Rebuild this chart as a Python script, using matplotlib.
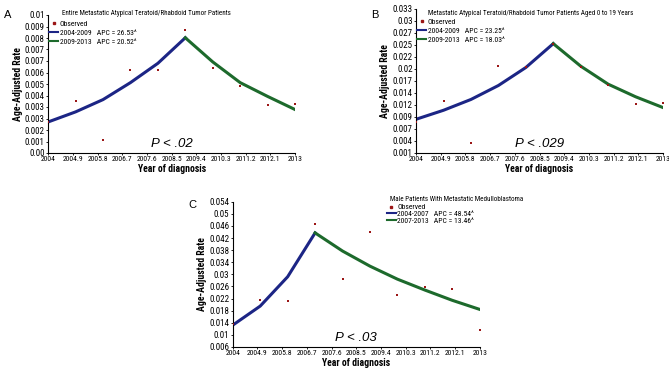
import matplotlib
matplotlib.use("Agg")
import matplotlib.pyplot as plt
from matplotlib.lines import Line2D
from matplotlib import font_manager
import numpy as np

# pick the narrowest font that is installed
names = {f.name for f in font_manager.fontManager.ttflist}
stretches = {(f.name, f.stretch) for f in font_manager.fontManager.ttflist}
narrow = None
stretch = 'normal'
for cand in ['Liberation Sans Narrow', 'Roboto Condensed', 'Open Sans Condensed', 'Noto Sans Condensed']:
    if cand in names:
        narrow = cand
        break
if narrow is None:
    for n, s in stretches:
        if s in ('condensed', 'semi-condensed', 'extra-condensed', 500, 300, 400) and n in ('DejaVu Sans', 'Noto Sans', 'Open Sans', 'Roboto'):
            narrow, stretch = n, s
            break
if narrow is None:
    narrow = 'Roboto'
NF = [narrow, 'DejaVu Sans']
plt.rcParams['font.family'] = NF
plt.rcParams['font.stretch'] = stretch

years = [2004, 2005, 2006, 2007, 2008, 2009, 2010, 2011, 2012, 2013]
xticks = [2004, 2004.9, 2005.8, 2006.7, 2007.6, 2008.5, 2009.4, 2010.3, 2011.2, 2012.1, 2013]
xlabels = ['2004', '2004.9', '2005.8', '2006.7', '2007.6', '2008.5', '2009.4', '2010.3', '2011.2', '2012.1', '2013']

# Panel A
obs_a = [0.00225, 0.00375, 0.00092, 0.00605, 0.0060, 0.00891, 0.00617, 0.00484, 0.00351, 0.00356]
fit1_years_a = [2004, 2005, 2006, 2007, 2008, 2009]
fit1_a = [0.00225, 0.00298, 0.00387, 0.0051, 0.0065, 0.00835]
fit2_years_a = [2009, 2010, 2011, 2012, 2013]
fit2_a = [0.00835, 0.0066, 0.0051, 0.0041, 0.00315]
ylabels_a = ['0.00', '0.001', '0.002', '0.003', '0.003', '0.004', '0.005', '0.006', '0.007', '0.007', '0.008', '0.009', '0.01']

# Panel B
obs_b = [0.0079, 0.0126, 0.0033, 0.0203, 0.0202, 0.0253, 0.0202, 0.0161, 0.0119, 0.0122]
fit1_years_b = [2004, 2005, 2006, 2007, 2008, 2009]
fit1_b = [0.0085, 0.0105, 0.0129, 0.0160, 0.0200, 0.0253]
fit2_years_b = [2009, 2010, 2011, 2012, 2013]
fit2_b = [0.0253, 0.0203, 0.0163, 0.0135, 0.0111]
ylabels_b = ['0.001', '0.004', '0.007', '0.009', '0.012', '0.014', '0.017', '0.02', '0.022', '0.025', '0.027', '0.03', '0.033']

# Panel C
obs_c = [0.0135, 0.02145, 0.0211, 0.0466, 0.0284, 0.0441, 0.0230, 0.0259, 0.0250, 0.0115]
fit1_years_c = [2004, 2005, 2006, 2007]
fit1_c = [0.0132, 0.0195, 0.0292, 0.0437]
fit2_years_c = [2007, 2008, 2009, 2010, 2011, 2012, 2013]
fit2_c = [0.0437, 0.0377, 0.0327, 0.0284, 0.0248, 0.0214, 0.0184]
ylabels_c = ['0.006', '0.01', '0.014', '0.018', '0.022', '0.026', '0.03', '0.034', '0.038', '0.042', '0.046', '0.05', '0.054']

blue = '#1c2585'
green = '#1d6a2c'
red = '#9b1616'

fig = plt.figure(figsize=(6.69, 3.75), dpi=100)


def panel(rect, letter, letter_xy, obs, fy1, f1, fy2, f2, ylim, ylabels,
          title, lab1, lab2, ptext, leg_xy, title_xy, lspace):
    ax = fig.add_axes(rect)
    ax.scatter(years, obs, s=4, marker='s', color=red, zorder=3, linewidths=0)
    ax.plot(fy1, f1, color=blue, lw=2.2)
    ax.plot(fy2, f2, color=green, lw=2.2)
    ax.set_xlim(2004, 2013)
    ax.set_ylim(ylim)
    ax.set_xticks(xticks)
    ax.set_xticklabels(xlabels, fontsize=5.5)
    ax.set_yticks(np.linspace(ylim[0], ylim[1], 13))
    ax.set_yticklabels(ylabels, fontsize=6.5)
    ax.tick_params(length=1.5, width=0.6, pad=1)
    ax.spines['top'].set_visible(False)
    ax.spines['right'].set_visible(False)
    ax.spines['left'].set_linewidth(0.8)
    ax.spines['bottom'].set_linewidth(0.8)
    ax.set_xlabel('Year of diagnosis', fontsize=7, fontweight='bold', labelpad=1)
    ax.set_ylabel('Age-Adjusted Rate', fontsize=7, fontweight='bold', labelpad=1.5)
    ax.text(0.5, 0.02, ptext, transform=ax.transAxes, ha='center', va='bottom',
            fontsize=9.5, style='italic', family=['Liberation Sans', 'DejaVu Sans'])
    ax.text(title_xy[0], title_xy[1], title, transform=ax.transAxes, fontsize=5,
            ha='left', va='center')
    handles = [Line2D([], [], ls='none', marker='s', ms=2, color=red),
               Line2D([], [], color=blue, lw=1.5),
               Line2D([], [], color=green, lw=1.5)]
    ax.legend(handles, ['Observed', lab1, lab2], loc='upper left',
              bbox_to_anchor=leg_xy, frameon=False, fontsize=5.5,
              handlelength=1.1, handletextpad=0.25, labelspacing=lspace,
              borderpad=0, borderaxespad=0)
    fig.text(letter_xy[0], letter_xy[1], letter, fontsize=8,
             family=['Liberation Sans', 'DejaVu Sans'])
    return ax


panel([0.072, 0.592, 0.369, 0.368], 'A', (0.006, 0.953), obs_a,
      fit1_years_a, fit1_a, fit2_years_a, fit2_a, (0, 0.01), ylabels_a,
      'Entire Metastatic Atypical Teratoid/Rhabdoid Tumor Patients',
      '2004-2009   APC = 26.53^', '2009-2013   APC = 20.52^', 'P < .02',
      (0.005, 0.96), (0.057, 1.01), 0.35)

panel([0.622, 0.592, 0.369, 0.384], 'B', (0.555, 0.953), obs_b,
      fit1_years_b, fit1_b, fit2_years_b, fit2_b, (0.001, 0.033), ylabels_b,
      'Metastatic Atypical Teratoid/Rhabdoid Tumor Patients Aged 0 to 19 Years',
      '2004-2009   APC = 23.25^', '2009-2013   APC = 18.03^', 'P < .029',
      (0.005, 0.935), (0.049, 0.972), 0.35)

panel([0.348, 0.075, 0.369, 0.387], 'C', (0.282, 0.445), obs_c,
      fit1_years_c, fit1_c, fit2_years_c, fit2_c, (0.006, 0.054), ylabels_c,
      'Male Patients With Metastatic Medulloblastoma',
      '2004-2007   APC = 48.54^', '2007-2013   APC = 13.46^', 'P < .03',
      (0.625, 0.985), (0.636, 1.014), 0.05)

fig.savefig('out.png', dpi=100)
